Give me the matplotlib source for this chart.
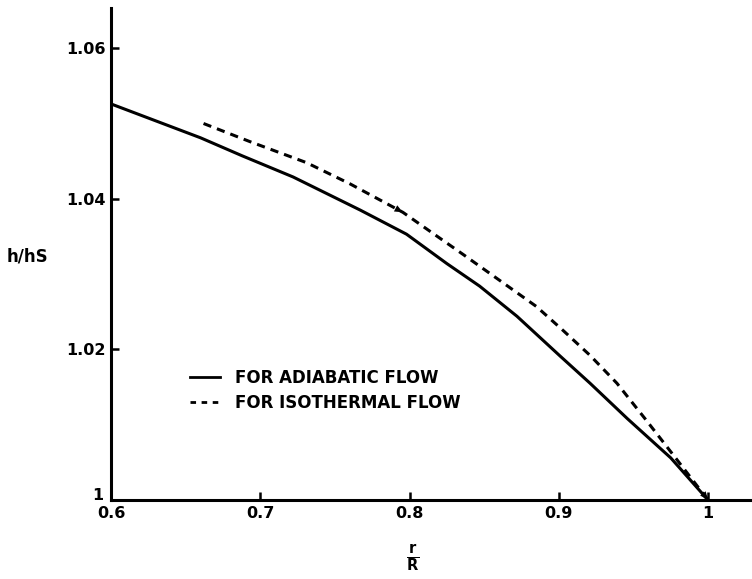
import numpy as np
import matplotlib
matplotlib.use("Agg")
import matplotlib.pyplot as plt
import matplotlib.transforms as mtransforms
from matplotlib.lines import Line2D

# ---- data (r/R vs h/hs) ----
adi_x = [0.600, 0.660, 0.688, 0.722, 0.767, 0.798, 0.825, 0.847, 0.872, 0.901, 0.921, 0.946, 0.975, 1.000]
adi_y = [1.0526, 1.0481, 1.0457, 1.0429, 1.0385, 1.0353, 1.0314, 1.0284, 1.0244, 1.0191, 1.0155, 1.0108, 1.0056, 1.0000]
iso_x = [0.662, 0.693, 0.731, 0.760, 0.7956, 0.836, 0.863, 0.885, 0.903, 0.921, 0.939, 0.959, 0.979, 1.000]
iso_y = [1.0500, 1.0476, 1.0448, 1.0420, 1.0382, 1.0326, 1.0288, 1.0257, 1.0225, 1.0192, 1.0155, 1.0105, 1.0054, 1.0000]
iso_arrows = [4, 13]          # arrowheads drawn on the dashed curve

xticks = [0.6, 0.7, 0.8, 0.9, 1.0]
xticklabels = ["0.6", "0.7", "0.8", "0.9", "1"]
yticks = [1.00, 1.02, 1.04, 1.06]
yticklabels = ["1", "1.02", "1.04", "1.06"]
labels = ["FOR ADIABATIC FLOW", "FOR ISOTHERMAL FLOW"]

INK = "black"
FONT = dict(family="DejaVu Sans", weight="bold")

W, H = 752, 579
fig = plt.figure(figsize=(W/100, H/100), dpi=100)
ax = fig.add_axes([111/W, 1-500/H, 1-111/W, (500-8)/H])
ax.set_xlim(0.6, 0.6 + (W-111)/1492.5)
ax.set_ylim(1.0, 1.0 + 492/7530)

ax.plot(adi_x, adi_y, color=INK, lw=2.2, solid_capstyle="round", solid_joinstyle="round")
ax.plot(iso_x, iso_y, color=INK, lw=2.2, dashes=(2.7, 2.0))
for i in iso_arrows:
    ax.annotate("", xy=(iso_x[i], iso_y[i]), xytext=(iso_x[i-1], iso_y[i-1]),
                arrowprops=dict(arrowstyle="-|>,head_length=0.6,head_width=0.25",
                                color=INK, lw=0.01, shrinkA=0, shrinkB=0))

for s in ["top", "right"]:
    ax.spines[s].set_visible(False)
for s in ["left", "bottom"]:
    ax.spines[s].set_linewidth(2.2)
    ax.spines[s].set_color(INK)

ax.set_xticks(xticks, xticklabels)
ax.set_yticks(yticks, yticklabels)
ax.tick_params(direction="in", length=6, width=1.8, colors=INK, pad=4, labelsize=11.5)
for t in ax.get_xticklabels() + ax.get_yticklabels():
    t.set_fontfamily(FONT["family"]); t.set_fontweight(FONT["weight"])
# the origin "1" sits slightly above the x-axis labels, as in the original
lab0 = ax.get_yticklabels()[0]
lab0.set_transform(lab0.get_transform() + mtransforms.ScaledTranslation(-2/100, 6/100, fig.dpi_scale_trans))

fig.text(7/W, 1-257/H, "h/hS", ha="left", va="center", fontsize=12, **FONT)
fig.text(413/W, 1-558/H, r"$\frac{\mathbf{r}}{\mathbf{R}}$", ha="center", va="center", fontsize=15)

handles = [Line2D([], [], color=INK, lw=2.0),
           Line2D([], [], color=INK, lw=2.0, dashes=(2.0, 2.0))]
ax.legend(handles, labels, loc="upper left", bbox_to_anchor=(190/W, 1-369/H),
          bbox_transform=fig.transFigure, frameon=False, borderpad=0, borderaxespad=0,
          handlelength=1.8, handletextpad=0.9, labelspacing=0.4,
          prop=dict(family="DejaVu Sans", weight="bold", size=12))

fig.savefig("out.png", dpi=100, facecolor="white")
